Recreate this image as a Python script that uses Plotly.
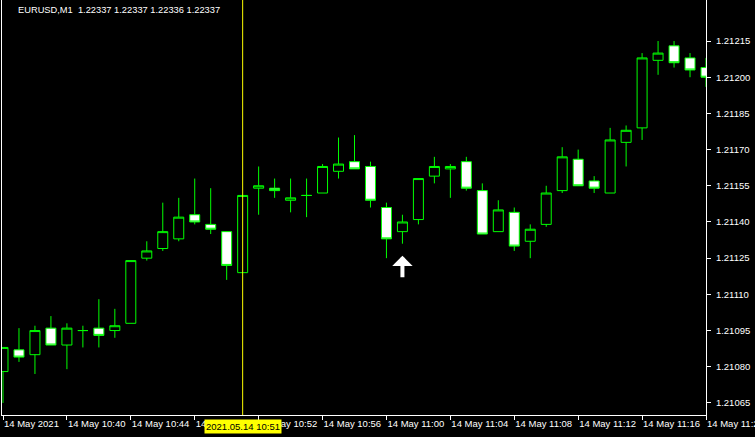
import plotly.graph_objects as go

# ---- data ----
times = ["10:36", "10:37", "10:38", "10:39", "10:40", "10:41", "10:42", "10:43", "10:44",
         "10:45", "10:46", "10:47", "10:48", "10:49", "10:50", "10:51", "10:52", "10:53",
         "10:54", "10:55", "10:56", "10:57", "10:58", "10:59", "11:00", "11:01", "11:02",
         "11:03", "11:04", "11:05", "11:06", "11:07", "11:08", "11:09", "11:10", "11:11",
         "11:12", "11:13", "11:14", "11:15", "11:16", "11:17", "11:18", "11:19", "11:20"]

opens = [1.21078, 1.21087, 1.21085, 1.21096, 1.21089, 1.21095, 1.21096, 1.21095, 1.21098,
         1.21125, 1.21129, 1.21133, 1.21143, 1.21139, 1.21136, 1.21119, 1.21154, 1.21154,
         1.21149, 1.21151, 1.21152, 1.21161, 1.21165, 1.21163, 1.21146, 1.21136, 1.21141,
         1.21159, 1.21162, 1.21165, 1.21153, 1.21136, 1.21144, 1.21132, 1.21139, 1.21153,
         1.21166, 1.21157, 1.21152, 1.21173, 1.21179, 1.21207, 1.21213, 1.21208, 1.21204]
highs = [1.21088, 1.21096, 1.21097, 1.21101, 1.21098, 1.21097, 1.21108, 1.21104, 1.21124,
         1.21132, 1.21148, 1.21150, 1.21158, 1.21154, 1.21136, 1.21151, 1.21163, 1.21158,
         1.21158, 1.21158, 1.21164, 1.21175, 1.21176, 1.21165, 1.21148, 1.21143, 1.21158,
         1.21167, 1.21164, 1.21167, 1.21156, 1.21149, 1.21146, 1.21139, 1.21155, 1.21171,
         1.21170, 1.21159, 1.21179, 1.21180, 1.21210, 1.21215, 1.21215, 1.21210, 1.21208]
lows = [1.21065, 1.21082, 1.21077, 1.21089, 1.21079, 1.21088, 1.21088, 1.21092, 1.21098,
        1.21124, 1.21128, 1.21132, 1.21139, 1.21135, 1.21116, 1.21119, 1.21143, 1.21150,
        1.21144, 1.21142, 1.21152, 1.21158, 1.21162, 1.21146, 1.21125, 1.21131, 1.21139,
        1.21156, 1.21150, 1.21153, 1.21135, 1.21136, 1.21128, 1.21125, 1.21138, 1.21152,
        1.21155, 1.21152, 1.21152, 1.21163, 1.21174, 1.21201, 1.21204, 1.21200, 1.21196]
closes = [1.21088, 1.21084, 1.21095, 1.21089, 1.21096, 1.21095, 1.21093, 1.21097, 1.21124,
          1.21128, 1.21136, 1.21142, 1.21140, 1.21137, 1.21122, 1.21151, 1.21155, 1.21153,
          1.21150, 1.21151, 1.21163, 1.21164, 1.21162, 1.21149, 1.21133, 1.21140, 1.21158,
          1.21163, 1.21163, 1.21154, 1.21135, 1.21145, 1.21130, 1.21137, 1.21152, 1.21167,
          1.21155, 1.21154, 1.21174, 1.21178, 1.21208, 1.21210, 1.21206, 1.21203, 1.21200]

x_tick_times = ["10:36", "10:40", "10:44", "10:48", "10:52", "10:56", "11:00", "11:04",
                "11:08", "11:12", "11:16", "11:20"]
x_tick_labels = ["14 May 2021", "14 May 10:40", "14 May 10:44", "14 May 10:48",
                 "14 May 10:52", "14 May 10:56", "14 May 11:00", "14 May 11:04",
                 "14 May 11:08", "14 May 11:12", "14 May 11:16", "14 May 11:20"]
y_ticks = [1.21065, 1.21080, 1.21095, 1.21110, 1.21125, 1.21140, 1.21155, 1.21170,
           1.21185, 1.21200, 1.21215]

header_text = "EURUSD,M1  1.22337 1.22337 1.22336 1.22337"
crosshair_time = "10:51"
crosshair_label = "2021.05.14 10:51"
arrow_time = "11:01"
arrow_price = 1.21126

FONT = "Liberation Sans"
GREEN = "#00ff00"

fig = go.Figure()
fig.add_trace(go.Candlestick(
    x=times, open=opens, high=highs, low=lows, close=closes,
    increasing=dict(line=dict(color=GREEN, width=1), fillcolor="black"),
    decreasing=dict(line=dict(color=GREEN, width=1), fillcolor="white"),
    whiskerwidth=0, showlegend=False, hoverinfo="skip",
))

fig.add_shape(type="line", xref="x", yref="paper", x0=crosshair_time, x1=crosshair_time,
              y0=0, y1=1, line=dict(color="#ffff00", width=1), layer="above")

fig.add_annotation(xref="x", yref="y", x=arrow_time, y=arrow_price, text="",
                   showarrow=True, ax=0, ay=23, arrowhead=1, arrowsize=0.85,
                   arrowwidth=4, arrowcolor="white", standoff=0)

fig.add_annotation(xref="paper", yref="paper", x=0, y=1, xanchor="left", yanchor="top",
                   xshift=14, yshift=-3, text=header_text, showarrow=False,
                   font=dict(family=FONT, size=9.3, color="white"))

fig.add_annotation(xref="x", yref="paper", x=crosshair_time, y=0, xanchor="center",
                   yanchor="top", yshift=-4, text=crosshair_label, showarrow=False,
                   bgcolor="#ffff00", borderpad=1,
                   font=dict(family=FONT, size=9.5, color="black"))

fig.update_layout(
    width=755, height=437,
    paper_bgcolor="black", plot_bgcolor="black",
    margin=dict(l=2, r=49, t=0, b=22),
    boxgap=0.375, boxgroupgap=0,
    showlegend=False,
    font=dict(family=FONT, size=9.5, color="white"),
    xaxis=dict(type="category", range=[-0.0625, 44.0], rangeslider=dict(visible=False),
               tickmode="array", tickvals=x_tick_times, ticktext=x_tick_labels,
               tickangle=0, automargin=False,
               ticks="outside", ticklen=4, tickcolor="white", tickwidth=1,
               ticklabelposition="outside right",
               showline=True, linecolor="white", linewidth=1, mirror=True,
               showgrid=False, zeroline=False, fixedrange=True),
    yaxis=dict(side="right", range=[1.21060, 1.21232], tickmode="array", tickvals=y_ticks,
               tickformat=".5f", ticks="outside", ticklen=4, tickcolor="white",
               ticklabelstandoff=3, automargin=False,
               showline=True, linecolor="white", linewidth=1, mirror=True,
               showgrid=False, zeroline=False, fixedrange=True),
)

fig.write_html("out.html", config={"displayModeBar": False},
               post_script="document.body.style.margin='0';")
